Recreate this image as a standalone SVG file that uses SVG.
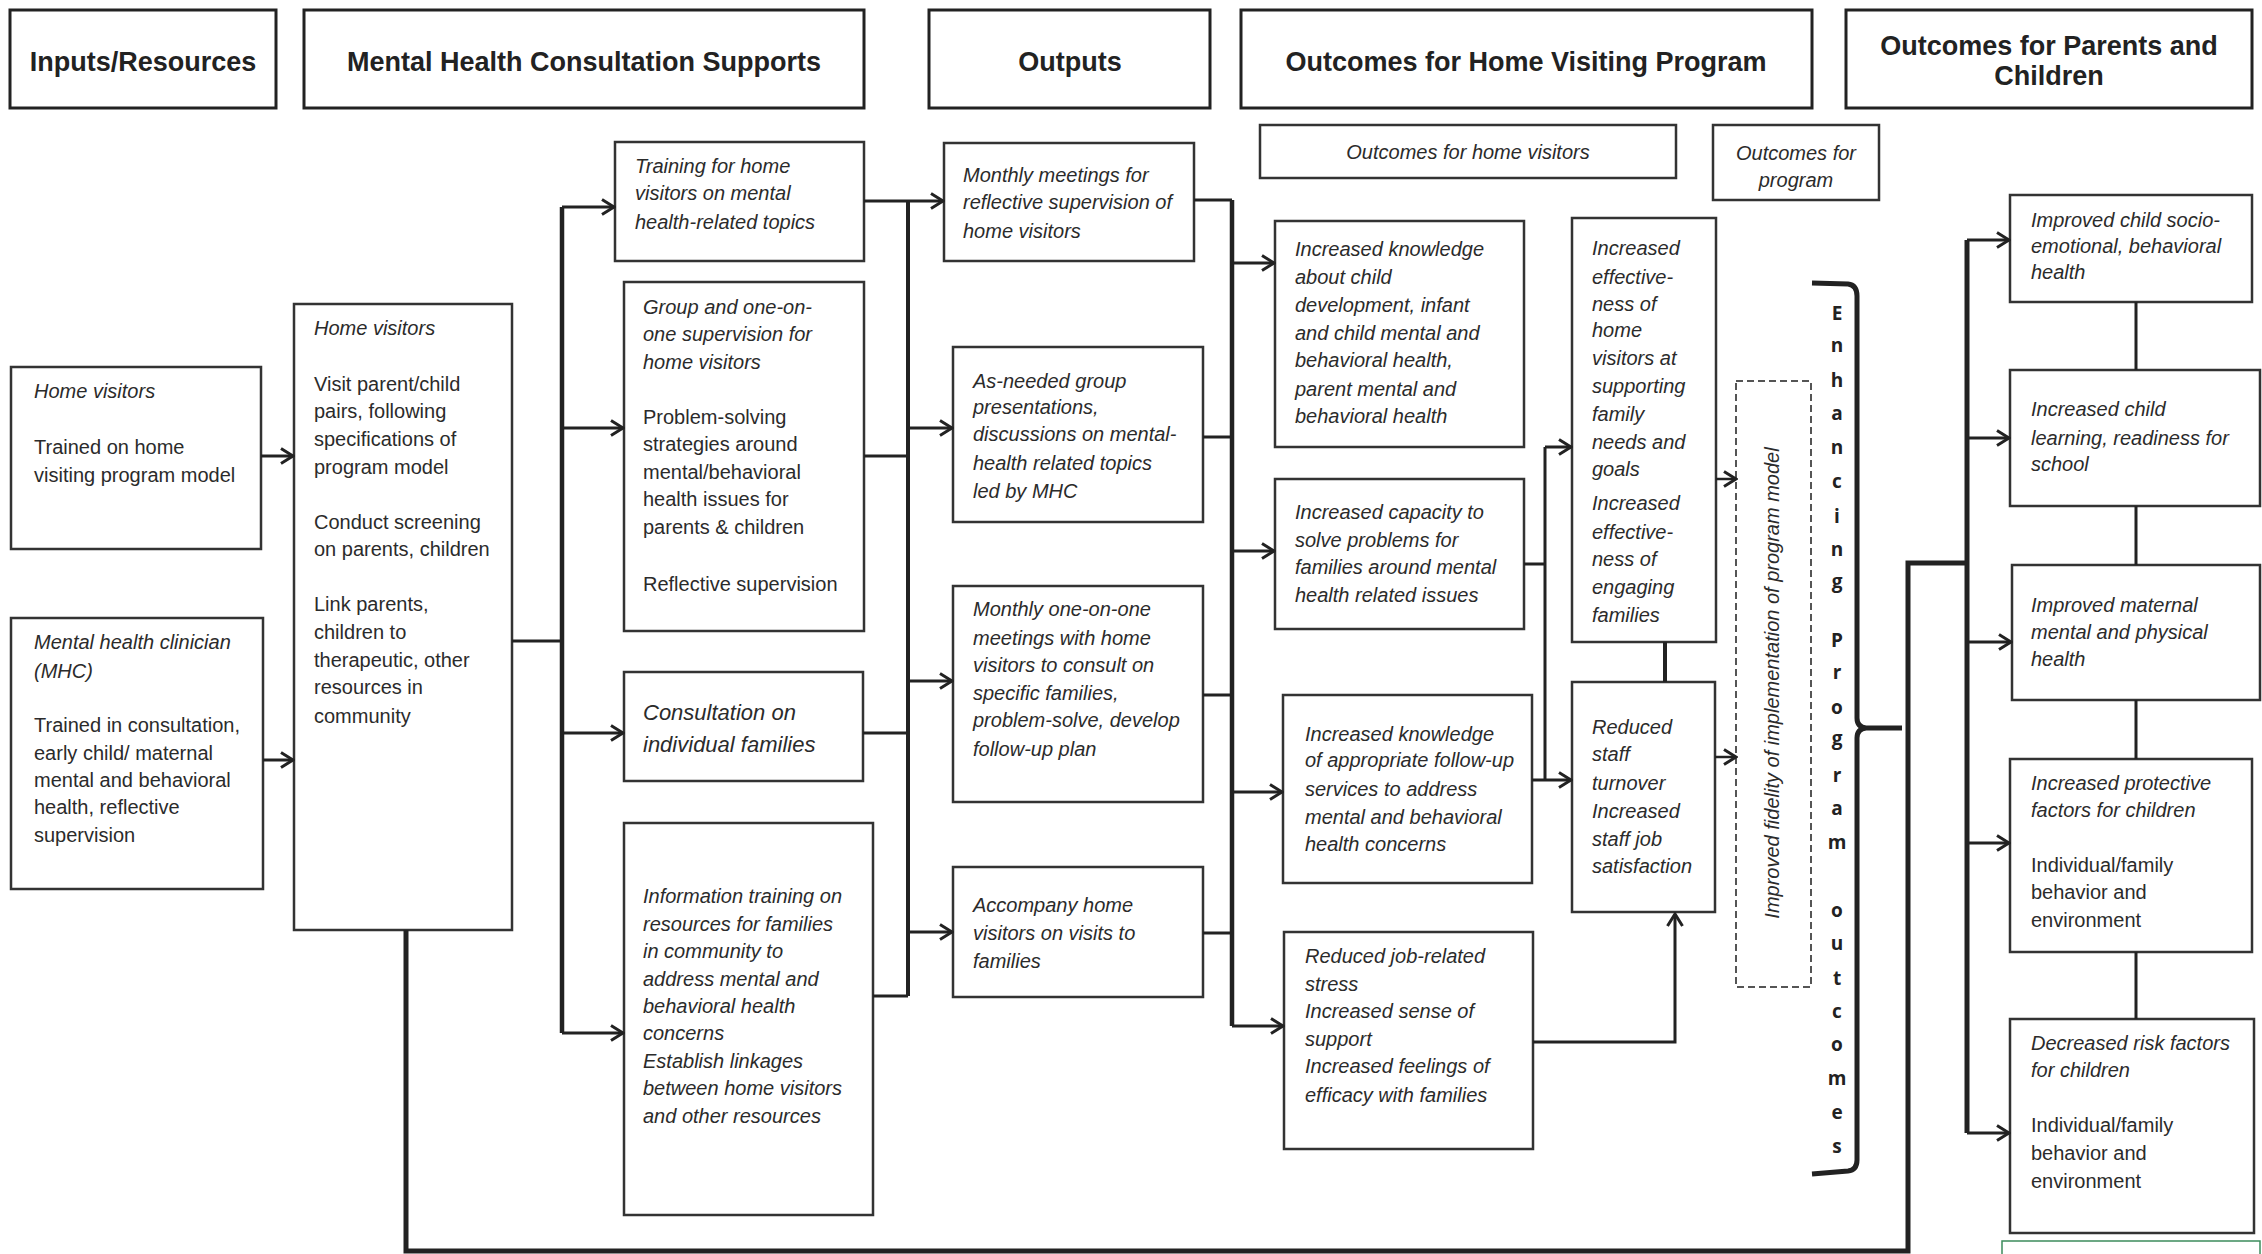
<svg xmlns="http://www.w3.org/2000/svg" width="2262" height="1254" viewBox="0 0 2262 1254">
<style>
.box{fill:#fff;stroke:#333;stroke-width:2.5}
.hdr{fill:#fff;stroke:#222;stroke-width:3}
.sub{fill:#fff;stroke:#333;stroke-width:2.5}
.dash{fill:none;stroke:#555;stroke-width:2;stroke-dasharray:7,4}
text{font-family:"Liberation Sans",Arial,sans-serif;font-size:20px;fill:#2b2b2b}
.i{font-style:italic}
.h{font-size:27px;font-weight:bold;text-anchor:middle;fill:#222}
.big{font-size:22px}
.m{text-anchor:middle}
.en{font-family:"Open Sans","Liberation Sans",sans-serif;font-size:19px;font-weight:bold;text-anchor:middle;fill:#222}
.c{stroke:#222;stroke-width:3;fill:none}
.tk{stroke-width:4.5}
.ar{marker-end:url(#a)}
</style>
<defs>
<marker id="a" markerWidth="16" markerHeight="18" refX="14" refY="9" orient="auto" markerUnits="userSpaceOnUse">
<path d="M2,1.5 L14,9 L2,16.5" fill="none" stroke="#222" stroke-width="3"/>
</marker>
</defs>
<rect width="2262" height="1254" fill="#fff"/>

<!-- Headers -->
<g id="hdr-inputs"><rect class="hdr" x="10" y="10" width="266" height="98"/><text class="h" x="143" y="71">Inputs/Resources</text></g>
<g id="hdr-mhcs"><rect class="hdr" x="304" y="10" width="560" height="98"/><text class="h" x="584" y="71">Mental Health Consultation Supports</text></g>
<g id="hdr-outputs"><rect class="hdr" x="929" y="10" width="281" height="98"/><text class="h" x="1070" y="71">Outputs</text></g>
<g id="hdr-ohvp"><rect class="hdr" x="1241" y="10" width="571" height="98"/><text class="h" x="1526" y="71">Outcomes for Home Visiting Program</text></g>
<g id="hdr-opc"><rect class="hdr" x="1846" y="10" width="406" height="98"/><text class="h" x="2049" y="55">Outcomes for Parents and</text><text class="h" x="2049" y="85">Children</text></g>
<g id="sub-hv"><rect class="sub" x="1260" y="125" width="416" height="53"/><text class="i m" x="1468" y="159">Outcomes for home visitors</text></g>
<g id="sub-prog"><rect class="sub" x="1713" y="125" width="166" height="75"/><text class="i m" x="1796" y="160">Outcomes for</text><text class="i m" x="1796" y="187">program</text></g>

<!-- Column 1 -->
<g id="in-hv"><rect class="box" x="11" y="367" width="250" height="182"/>
<text class="i" x="34" y="398">Home visitors</text>
<text x="34" y="454">Trained on home</text>
<text x="34" y="482">visiting program model</text></g>
<g id="in-mhc"><rect class="box" x="11" y="618" width="252" height="271"/>
<text class="i" x="34" y="649">Mental health clinician</text>
<text class="i" x="34" y="678">(MHC)</text>
<text x="34" y="732">Trained in consultation,</text>
<text x="34" y="760">early child/ maternal</text>
<text x="34" y="787">mental and behavioral</text>
<text x="34" y="814">health, reflective</text>
<text x="34" y="842">supervision</text></g>

<!-- Column 2 -->
<g id="hv-big"><rect class="box" x="294" y="304" width="218" height="626"/>
<text class="i" x="314" y="335">Home visitors</text>
<text x="314" y="391">Visit parent/child</text>
<text x="314" y="418">pairs, following</text>
<text x="314" y="446">specifications of</text>
<text x="314" y="474">program model</text>
<text x="314" y="529">Conduct screening</text>
<text x="314" y="556">on parents, children</text>
<text x="314" y="611">Link parents,</text>
<text x="314" y="639">children to</text>
<text x="314" y="667">therapeutic, other</text>
<text x="314" y="694">resources in</text>
<text x="314" y="723">community</text></g>

<!-- Column 3 -->
<g id="s-training"><rect class="box" x="615" y="142" width="249" height="119"/>
<text class="i" x="635" y="173">Training for home</text>
<text class="i" x="635" y="200">visitors on mental</text>
<text class="i" x="635" y="229">health-related topics</text></g>
<g id="s-group"><rect class="box" x="624" y="282" width="240" height="349"/>
<text class="i" x="643" y="314">Group and one-on-</text>
<text class="i" x="643" y="341">one supervision for</text>
<text class="i" x="643" y="369">home visitors</text>
<text x="643" y="424">Problem-solving</text>
<text x="643" y="451">strategies around</text>
<text x="643" y="479">mental/behavioral</text>
<text x="643" y="506">health issues for</text>
<text x="643" y="534">parents &amp; children</text>
<text x="643" y="591">Reflective supervision</text></g>
<g id="s-consult"><rect class="box" x="624" y="672" width="239" height="109"/>
<text class="i big" x="643" y="720">Consultation on</text>
<text class="i big" x="643" y="752">individual families</text></g>
<g id="s-info"><rect class="box" x="624" y="823" width="249" height="392"/>
<text class="i" x="643" y="903">Information training on</text>
<text class="i" x="643" y="931">resources for families</text>
<text class="i" x="643" y="958">in community to</text>
<text class="i" x="643" y="986">address mental and</text>
<text class="i" x="643" y="1013">behavioral health</text>
<text class="i" x="643" y="1040">concerns</text>
<text class="i" x="643" y="1068">Establish linkages</text>
<text class="i" x="643" y="1095">between home visitors</text>
<text class="i" x="643" y="1123">and other resources</text></g>

<!-- Column 4 -->
<g id="o-monthly"><rect class="box" x="944" y="143" width="250" height="118"/>
<text class="i" x="963" y="182">Monthly meetings for</text>
<text class="i" x="963" y="209">reflective supervision of</text>
<text class="i" x="963" y="238">home visitors</text></g>
<g id="o-asneeded"><rect class="box" x="953" y="347" width="250" height="175"/>
<text class="i" x="973" y="388">As-needed group</text>
<text class="i" x="973" y="414">presentations,</text>
<text class="i" x="973" y="441">discussions on mental-</text>
<text class="i" x="973" y="470">health related topics</text>
<text class="i" x="973" y="498">led by MHC</text></g>
<g id="o-oneonone"><rect class="box" x="953" y="586" width="250" height="216"/>
<text class="i" x="973" y="616">Monthly one-on-one</text>
<text class="i" x="973" y="645">meetings with home</text>
<text class="i" x="973" y="672">visitors to consult on</text>
<text class="i" x="973" y="700">specific families,</text>
<text class="i" x="973" y="727">problem-solve, develop</text>
<text class="i" x="973" y="756">follow-up plan</text></g>
<g id="o-accompany"><rect class="box" x="953" y="867" width="250" height="130"/>
<text class="i" x="973" y="912">Accompany home</text>
<text class="i" x="973" y="940">visitors on visits to</text>
<text class="i" x="973" y="968">families</text></g>

<!-- Column 5 -->
<g id="hv-knowledge"><rect class="box" x="1275" y="221" width="249" height="226"/>
<text class="i" x="1295" y="256">Increased knowledge</text>
<text class="i" x="1295" y="284">about child</text>
<text class="i" x="1295" y="312">development, infant</text>
<text class="i" x="1295" y="340">and child mental and</text>
<text class="i" x="1295" y="367">behavioral health,</text>
<text class="i" x="1295" y="396">parent mental and</text>
<text class="i" x="1295" y="423">behavioral health</text></g>
<g id="hv-capacity"><rect class="box" x="1275" y="479" width="249" height="150"/>
<text class="i" x="1295" y="519">Increased capacity to</text>
<text class="i" x="1295" y="547">solve problems for</text>
<text class="i" x="1295" y="574">families around mental</text>
<text class="i" x="1295" y="602">health related issues</text></g>
<g id="hv-followup"><rect class="box" x="1283" y="695" width="249" height="188"/>
<text class="i" x="1305" y="741">Increased knowledge</text>
<text class="i" x="1305" y="767">of appropriate follow-up</text>
<text class="i" x="1305" y="796">services to address</text>
<text class="i" x="1305" y="824">mental and behavioral</text>
<text class="i" x="1305" y="851">health concerns</text></g>
<g id="hv-stress"><rect class="box" x="1284" y="932" width="249" height="217"/>
<text class="i" x="1305" y="963">Reduced job-related</text>
<text class="i" x="1305" y="991">stress</text>
<text class="i" x="1305" y="1018">Increased sense of</text>
<text class="i" x="1305" y="1046">support</text>
<text class="i" x="1305" y="1073">Increased feelings of</text>
<text class="i" x="1305" y="1102">efficacy with families</text></g>

<!-- Column 6 -->
<g id="p-effect"><rect class="box" x="1572" y="218" width="144" height="424"/>
<text class="i" x="1592" y="255">Increased</text>
<text class="i" x="1592" y="284">effective-</text>
<text class="i" x="1592" y="311">ness of</text>
<text class="i" x="1592" y="337">home</text>
<text class="i" x="1592" y="365">visitors at</text>
<text class="i" x="1592" y="393">supporting</text>
<text class="i" x="1592" y="421">family</text>
<text class="i" x="1592" y="449">needs and</text>
<text class="i" x="1592" y="476">goals</text>
<text class="i" x="1592" y="510">Increased</text>
<text class="i" x="1592" y="539">effective-</text>
<text class="i" x="1592" y="566">ness of</text>
<text class="i" x="1592" y="594">engaging</text>
<text class="i" x="1592" y="622">families</text></g>
<g id="p-turnover"><rect class="box" x="1572" y="682" width="143" height="230"/>
<text class="i" x="1592" y="734">Reduced</text>
<text class="i" x="1592" y="761">staff</text>
<text class="i" x="1592" y="790">turnover</text>
<text class="i" x="1592" y="818">Increased</text>
<text class="i" x="1592" y="846">staff job</text>
<text class="i" x="1592" y="873">satisfaction</text></g>
<g id="p-fidelity"><rect class="dash" x="1736" y="381" width="75" height="606"/>
<text class="i m" transform="translate(1779,683) rotate(-90)">Improved fidelity of implementation of program model</text></g>

<g id="enhancing">
<text class="en" x="1837" y="320">E</text>
<text class="en" x="1837" y="352">n</text>
<text class="en" x="1837" y="387">h</text>
<text class="en" x="1837" y="420">a</text>
<text class="en" x="1837" y="454">n</text>
<text class="en" x="1837" y="488">c</text>
<text class="en" x="1837" y="523">i</text>
<text class="en" x="1837" y="556">n</text>
<text class="en" x="1837" y="588">g</text>
<text class="en" x="1837" y="647">P</text>
<text class="en" x="1837" y="679">r</text>
<text class="en" x="1837" y="714">o</text>
<text class="en" x="1837" y="745">g</text>
<text class="en" x="1837" y="782">r</text>
<text class="en" x="1837" y="815">a</text>
<text class="en" x="1837" y="849">m</text>
<text class="en" x="1837" y="917">o</text>
<text class="en" x="1837" y="950">u</text>
<text class="en" x="1837" y="985">t</text>
<text class="en" x="1837" y="1018">c</text>
<text class="en" x="1837" y="1051">o</text>
<text class="en" x="1837" y="1085">m</text>
<text class="en" x="1837" y="1119">e</text>
<text class="en" x="1837" y="1153">s</text>
</g>

<!-- Column 7 -->
<g id="pc-socio"><rect class="box" x="2010" y="195" width="242" height="107"/>
<text class="i" x="2031" y="227">Improved child socio-</text>
<text class="i" x="2031" y="253">emotional, behavioral</text>
<text class="i" x="2031" y="279">health</text></g>
<g id="pc-learning"><rect class="box" x="2010" y="370" width="250" height="136"/>
<text class="i" x="2031" y="416">Increased child</text>
<text class="i" x="2031" y="445">learning, readiness for</text>
<text class="i" x="2031" y="471">school</text></g>
<g id="pc-maternal"><rect class="box" x="2012" y="565" width="248" height="135"/>
<text class="i" x="2031" y="612">Improved maternal</text>
<text class="i" x="2031" y="639">mental and physical</text>
<text class="i" x="2031" y="666">health</text></g>
<g id="pc-protective"><rect class="box" x="2010" y="759" width="242" height="193"/>
<text class="i" x="2031" y="790">Increased protective</text>
<text class="i" x="2031" y="817">factors for children</text>
<text x="2031" y="872">Individual/family</text>
<text x="2031" y="899">behavior and</text>
<text x="2031" y="927">environment</text></g>
<g id="pc-risk"><rect class="box" x="2010" y="1019" width="244" height="214"/>
<text class="i" x="2031" y="1050">Decreased risk factors</text>
<text class="i" x="2031" y="1077">for children</text>
<text x="2031" y="1132">Individual/family</text>
<text x="2031" y="1160">behavior and</text>
<text x="2031" y="1188">environment</text></g>
<rect x="2002" y="1241" width="258" height="20" fill="none" stroke="#3c8c5c" stroke-width="1.5"/>

<!-- Connectors -->
<g id="connectors">
<path class="c ar" d="M261,456 H293"/>
<path class="c ar" d="M263,760 H293"/>
<path class="c" d="M512,641 H562"/>
<path class="c tk" d="M562,207 V1033"/>
<path class="c ar" d="M562,207 H614"/>
<path class="c ar" d="M562,428 H623"/>
<path class="c ar" d="M562,733 H623"/>
<path class="c ar" d="M562,1033 H623"/>

<path class="c" d="M864,201 H908 M864,456 H908 M863,733 H908 M873,996 H908"/>
<path class="c" style="stroke-width:4" d="M908,201 V996"/>
<path class="c ar" d="M908,201 H943"/>
<path class="c ar" d="M908,428 H952"/>
<path class="c ar" d="M908,681 H952"/>
<path class="c ar" d="M908,932 H952"/>

<path class="c" d="M1194,200 H1232 M1203,437 H1232 M1203,695 H1232 M1203,933 H1232"/>
<path class="c tk" d="M1232,200 V1026"/>
<path class="c ar" d="M1232,263 H1274"/>
<path class="c ar" d="M1232,551 H1274"/>
<path class="c ar" d="M1232,792 H1282"/>
<path class="c ar" d="M1232,1026 H1283"/>

<path class="c" d="M1524,564 H1545 M1545,447 V780"/>
<path class="c ar" d="M1545,447 H1571"/>
<path class="c ar" d="M1532,780 H1571"/>
<path class="c ar" d="M1533,1042 H1675 V914"/>
<path class="c" style="stroke-width:4" d="M1665,642 V682"/>
<path class="c ar" style="stroke-width:2.5" d="M1716,479 H1736"/>
<path class="c ar" style="stroke-width:2.5" d="M1715,757 H1736"/>

<path class="c" style="stroke-width:5" d="M1812,283 L1848,284 Q1857,285 1857,296 L1857,718 Q1857,727 1866,728 L1902,728 M1866,728 Q1857,729 1857,738 L1857,1160 Q1857,1170 1848,1171 L1812,1174"/>
<path class="c" style="stroke-width:5" d="M406,930 V1251 H1908 V563 H1967"/>
<path class="c" style="stroke-width:5" d="M1967,240 V1133"/>
<path class="c ar" d="M1967,240 H2009"/>
<path class="c ar" d="M1967,438 H2009"/>
<path class="c ar" d="M1967,642 H2011"/>
<path class="c ar" d="M1967,843 H2009"/>
<path class="c ar" d="M1967,1133 H2009"/>
<path class="c" d="M2136,302 V370 M2136,506 V565 M2136,700 V759 M2136,952 V1019"/>
</g>
</svg>
